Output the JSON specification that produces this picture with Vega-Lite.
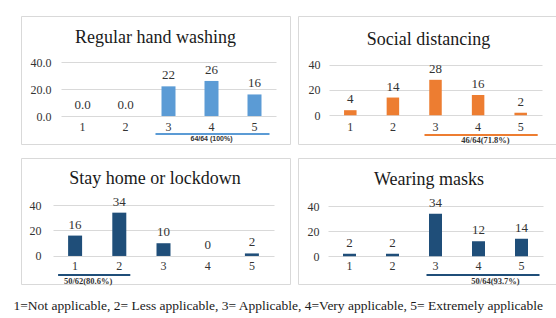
{
  "$schema": "https://vega.github.io/schema/vega-lite/v6.json",
  "background": "white",
  "padding": {"left": 13, "top": 15, "right": 2, "bottom": 4},
  "title": {
    "text": "1=Not applicable, 2= Less applicable, 3= Applicable, 4=Very applicable, 5= Extremely applicable",
    "orient": "bottom", "anchor": "start", "frame": "bounds",
    "fontSize": 13.5, "font": "Liberation Serif", "fontWeight": "normal", "color": "#1a1a1a",
    "offset": 13, "dx": -7
  },
  "datasets": {
    "bars": [
      {"chart": "Regular hand washing", "score": 1, "count": 0, "label": "0.0"},
      {"chart": "Regular hand washing", "score": 2, "count": 0, "label": "0.0"},
      {"chart": "Regular hand washing", "score": 3, "count": 22, "label": "22"},
      {"chart": "Regular hand washing", "score": 4, "count": 26, "label": "26"},
      {"chart": "Regular hand washing", "score": 5, "count": 16, "label": "16"},
      {"chart": "Social distancing", "score": 1, "count": 4, "label": "4"},
      {"chart": "Social distancing", "score": 2, "count": 14, "label": "14"},
      {"chart": "Social distancing", "score": 3, "count": 28, "label": "28"},
      {"chart": "Social distancing", "score": 4, "count": 16, "label": "16"},
      {"chart": "Social distancing", "score": 5, "count": 2, "label": "2"},
      {"chart": "Stay home or lockdown", "score": 1, "count": 16, "label": "16"},
      {"chart": "Stay home or lockdown", "score": 2, "count": 34, "label": "34"},
      {"chart": "Stay home or lockdown", "score": 3, "count": 10, "label": "10"},
      {"chart": "Stay home or lockdown", "score": 4, "count": 0, "label": "0"},
      {"chart": "Stay home or lockdown", "score": 5, "count": 2, "label": "2"},
      {"chart": "Wearing masks", "score": 1, "count": 2, "label": "2"},
      {"chart": "Wearing masks", "score": 2, "count": 2, "label": "2"},
      {"chart": "Wearing masks", "score": 3, "count": 34, "label": "34"},
      {"chart": "Wearing masks", "score": 4, "count": 12, "label": "12"},
      {"chart": "Wearing masks", "score": 5, "count": 14, "label": "14"}
    ],
    "notes": [
      {"chart": "Regular hand washing", "from": 3, "to": 5, "note": "64/64 (100%)"},
      {"chart": "Social distancing", "from": 3, "to": 5, "note": "46/64(71.8%)"},
      {"chart": "Stay home or lockdown", "from": 1, "to": 2, "note": "50/62(80.6%)"},
      {"chart": "Wearing masks", "from": 3, "to": 5, "note": "50/64(93.7%)"}
    ]
  },
  "spacing": 12,
  "vconcat": [
    {
      "spacing": 6,
      "hconcat": [
        {
          "width": 269, "height": 128,
          "layer": [
            {
              "data": {"name": "bars"},
              "transform": [{"filter": "datum.chart === 'Regular hand washing'"}],
              "mark": {"type": "bar", "width": 14, "color": "#5b9bd5"},
              "encoding": {
                "x": {"field": "score", "type": "ordinal", "title": null,
                  "scale": {"range": [40, 255], "paddingInner": 0, "paddingOuter": 0},
                  "axis": {"labelAngle": 0, "offset": -28, "labelPadding": 5, "grid": false}},
                "y": {"field": "count", "type": "quantitative", "title": null,
                  "scale": {"domain": [-20.7, 74.1], "nice": false},
                  "axis": {"values": [0, 20, 40], "format": ".1f", "offset": -34, "labelPadding": 4, "grid": true}}
              }
            },
            {
              "data": {"name": "bars"},
              "transform": [{"filter": "datum.chart === 'Regular hand washing'"}],
              "mark": {"type": "text", "baseline": "bottom", "dy": -4, "fontSize": 13, "color": "#333333"},
              "encoding": {
                "x": {"field": "score", "type": "ordinal"},
                "y": {"field": "count", "type": "quantitative"},
                "text": {"field": "label"}
              }
            },
            {
              "data": {"name": "notes"},
              "transform": [{"filter": "datum.chart === 'Regular hand washing'"}],
              "mark": {"type": "rule", "color": "#5b9bd5", "strokeWidth": 2, "xOffset": -13, "x2Offset": 15},
              "encoding": {
                "x": {"field": "from", "type": "ordinal"},
                "x2": {"field": "to"},
                "y": {"datum": -13.3, "type": "quantitative"}
              }
            },
            {
              "data": {"name": "notes"},
              "transform": [{"filter": "datum.chart === 'Regular hand washing'"}],
              "mark": {"type": "text", "font": "Liberation Sans", "fontWeight": "bold", "fontSize": 7, "dx": 43, "baseline": "middle", "color": "#333333"},
              "encoding": {
                "x": {"field": "from", "type": "ordinal"},
                "y": {"datum": -17, "type": "quantitative"},
                "text": {"field": "note"}
              }
            },
            {
              "data": {"name": "notes"},
              "transform": [{"filter": "datum.chart === 'Regular hand washing'"}],
              "mark": {"type": "text", "fontSize": 18, "dx": -13, "baseline": "alphabetic", "color": "#1a1a1a"},
              "encoding": {
                "x": {"datum": 3, "type": "ordinal"},
                "y": {"datum": 54.1, "type": "quantitative"},
                "text": {"field": "chart"}
              }
            }
          ]
        },
        {
          "width": 259, "height": 128,
          "layer": [
            {
              "data": {"name": "bars"},
              "transform": [{"filter": "datum.chart === 'Social distancing'"}],
              "mark": {"type": "bar", "width": 12.5, "color": "#ed7d31"},
              "encoding": {
                "x": {"field": "score", "type": "ordinal", "title": null,
                  "scale": {"range": [31, 244], "paddingInner": 0, "paddingOuter": 0},
                  "axis": {"labelAngle": 0, "offset": -29, "labelPadding": 6, "grid": false}},
                "y": {"field": "count", "type": "quantitative", "title": null,
                  "scale": {"domain": [-22.7, 78.4], "nice": false},
                  "axis": {"values": [0, 20, 40], "format": "d", "offset": -26, "labelPadding": 4, "grid": true}}
              }
            },
            {
              "data": {"name": "bars"},
              "transform": [{"filter": "datum.chart === 'Social distancing'"}],
              "mark": {"type": "text", "baseline": "bottom", "dy": -4, "fontSize": 13, "color": "#333333"},
              "encoding": {
                "x": {"field": "score", "type": "ordinal"},
                "y": {"field": "count", "type": "quantitative"},
                "text": {"field": "label"}
              }
            },
            {
              "data": {"name": "notes"},
              "transform": [{"filter": "datum.chart === 'Social distancing'"}],
              "mark": {"type": "rule", "color": "#ed7d31", "strokeWidth": 2, "xOffset": -11, "x2Offset": 17},
              "encoding": {
                "x": {"field": "from", "type": "ordinal"},
                "x2": {"field": "to"},
                "y": {"datum": -15.6, "type": "quantitative"}
              }
            },
            {
              "data": {"name": "notes"},
              "transform": [{"filter": "datum.chart === 'Social distancing'"}],
              "mark": {"type": "text", "fontWeight": "bold", "fontSize": 8.5, "dx": 50, "baseline": "middle", "color": "#333333"},
              "encoding": {
                "x": {"field": "from", "type": "ordinal"},
                "y": {"datum": -19.5, "type": "quantitative"},
                "text": {"field": "note"}
              }
            },
            {
              "data": {"name": "notes"},
              "transform": [{"filter": "datum.chart === 'Social distancing'"}],
              "mark": {"type": "text", "fontSize": 18, "dx": -7, "baseline": "alphabetic", "color": "#1a1a1a"},
              "encoding": {
                "x": {"datum": 3, "type": "ordinal"},
                "y": {"datum": 55.8, "type": "quantitative"},
                "text": {"field": "chart"}
              }
            }
          ]
        }
      ]
    },
    {
      "spacing": 6,
      "hconcat": [
        {
          "width": 269, "height": 126,
          "layer": [
            {
              "data": {"name": "bars"},
              "transform": [{"filter": "datum.chart === 'Stay home or lockdown'"}],
              "mark": {"type": "bar", "width": 14, "color": "#1f4e79"},
              "encoding": {
                "x": {"field": "score", "type": "ordinal", "title": null,
                  "scale": {"range": [32, 253], "paddingInner": 0, "paddingOuter": 0},
                  "axis": {"labelAngle": 0, "offset": -28, "labelPadding": 4, "grid": false}},
                "y": {"field": "count", "type": "quantitative", "title": null,
                  "scale": {"domain": [-22.0, 76.9], "nice": false},
                  "axis": {"values": [0, 20, 40], "format": "d", "offset": -24, "labelPadding": 4, "grid": true}}
              }
            },
            {
              "data": {"name": "bars"},
              "transform": [{"filter": "datum.chart === 'Stay home or lockdown'"}],
              "mark": {"type": "text", "baseline": "bottom", "dy": -4, "fontSize": 13, "color": "#333333"},
              "encoding": {
                "x": {"field": "score", "type": "ordinal"},
                "y": {"field": "count", "type": "quantitative"},
                "text": {"field": "label"}
              }
            },
            {
              "data": {"name": "notes"},
              "transform": [{"filter": "datum.chart === 'Stay home or lockdown'"}],
              "mark": {"type": "rule", "color": "#1f4e79", "strokeWidth": 2, "xOffset": -17, "x2Offset": 11},
              "encoding": {
                "x": {"field": "from", "type": "ordinal"},
                "x2": {"field": "to"},
                "y": {"datum": -14.9, "type": "quantitative"}
              }
            },
            {
              "data": {"name": "notes"},
              "transform": [{"filter": "datum.chart === 'Stay home or lockdown'"}],
              "mark": {"type": "text", "fontWeight": "bold", "fontSize": 8.5, "dx": 13, "baseline": "middle", "color": "#333333"},
              "encoding": {
                "x": {"field": "from", "type": "ordinal"},
                "y": {"datum": -19.6, "type": "quantitative"},
                "text": {"field": "note"}
              }
            },
            {
              "data": {"name": "notes"},
              "transform": [{"filter": "datum.chart === 'Stay home or lockdown'"}],
              "mark": {"type": "text", "fontSize": 18, "dx": -8.5, "baseline": "alphabetic", "color": "#1a1a1a"},
              "encoding": {
                "x": {"datum": 3, "type": "ordinal"},
                "y": {"datum": 56.5, "type": "quantitative"},
                "text": {"field": "chart"}
              }
            }
          ]
        },
        {
          "width": 259, "height": 126,
          "layer": [
            {
              "data": {"name": "bars"},
              "transform": [{"filter": "datum.chart === 'Wearing masks'"}],
              "mark": {"type": "bar", "width": 13, "color": "#1f4e79"},
              "encoding": {
                "x": {"field": "score", "type": "ordinal", "title": null,
                  "scale": {"range": [30, 245], "paddingInner": 0, "paddingOuter": 0},
                  "axis": {"labelAngle": 0, "offset": -28, "labelPadding": 4, "grid": false}},
                "y": {"field": "count", "type": "quantitative", "title": null,
                  "scale": {"domain": [-22.2, 78.6], "nice": false},
                  "axis": {"values": [0, 20, 40], "format": "d", "offset": -25, "labelPadding": 4, "grid": true}}
              }
            },
            {
              "data": {"name": "bars"},
              "transform": [{"filter": "datum.chart === 'Wearing masks'"}],
              "mark": {"type": "text", "baseline": "bottom", "dy": -4, "fontSize": 13, "color": "#333333"},
              "encoding": {
                "x": {"field": "score", "type": "ordinal"},
                "y": {"field": "count", "type": "quantitative"},
                "text": {"field": "label"}
              }
            },
            {
              "data": {"name": "notes"},
              "transform": [{"filter": "datum.chart === 'Wearing masks'"}],
              "mark": {"type": "rule", "color": "#1f4e79", "strokeWidth": 2, "xOffset": -9, "x2Offset": 18},
              "encoding": {
                "x": {"field": "from", "type": "ordinal"},
                "x2": {"field": "to"},
                "y": {"datum": -15, "type": "quantitative"}
              }
            },
            {
              "data": {"name": "notes"},
              "transform": [{"filter": "datum.chart === 'Wearing masks'"}],
              "mark": {"type": "text", "fontWeight": "bold", "fontSize": 8.5, "dx": 60, "baseline": "middle", "color": "#333333"},
              "encoding": {
                "x": {"field": "from", "type": "ordinal"},
                "y": {"datum": -19.8, "type": "quantitative"},
                "text": {"field": "note"}
              }
            },
            {
              "data": {"name": "notes"},
              "transform": [{"filter": "datum.chart === 'Wearing masks'"}],
              "mark": {"type": "text", "fontSize": 18, "dx": -6.5, "baseline": "alphabetic", "color": "#1a1a1a"},
              "encoding": {
                "x": {"datum": 3, "type": "ordinal"},
                "y": {"datum": 57, "type": "quantitative"},
                "text": {"field": "chart"}
              }
            }
          ]
        }
      ]
    }
  ],
  "config": {
    "font": "Liberation Serif",
    "view": {"stroke": "#d9d9d9", "strokeWidth": 1},
    "axis": {"labelFont": "Liberation Serif", "labelFontSize": 12, "labelColor": "#333333", "ticks": false, "domain": false, "gridColor": "#d9d9d9", "gridWidth": 1},
    "text": {"font": "Liberation Serif"}
  }
}
